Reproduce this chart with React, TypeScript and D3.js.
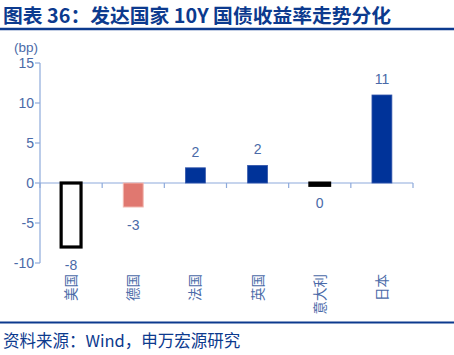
import React from "react";
import * as d3 from "d3";

const categories = ["美国", "德国", "法国", "英国", "意大利", "日本"];
const values = [-8, -3, 1.9, 2.2, -0.3, 11];
const valueLabels = ["-8", "-3", "2", "2", "0", "11"];
const yTicks = [-10, -5, 0, 5, 10, 15];

const titleText = "图表 36：发达国家 10Y 国债收益率走势分化";
const sourceText = "资料来源：Wind，申万宏源研究";
const unitText = "(bp)";

const fills = ["#ffffff", "#e07870", "#003399", "#003399", "#000000", "#003399"];
const strokes = ["#000000", "#f2b8b0", "#3355aa", "#3355aa", "#000000", "#3355aa"];
const strokeWidths = [3.2, 1, 0.8, 0.8, 3, 0.8];

const W = 454;
const H = 355;
const left = 40;
const right = 413;
const labelColor = "#4a6aa8";
const axisColor = "#8eaadb";
const navy = "#0c3a8e";

export default function App() {
  const x = d3.scaleBand<string>().domain(categories).range([left, right]).paddingInner(0.68).paddingOuter(0.34);
  const y = d3.scaleLinear().domain([-10, 15]).range([263, 63]);
  const bw = x.bandwidth();
  const boundaries = d3.range(categories.length + 1).map((i) => left + i * ((right - left) / categories.length));
  const latin = "'Liberation Sans', Arial, sans-serif";
  const cjk = "'Noto Sans CJK SC', sans-serif";

  return (
    <div style={{ position: "absolute", left: 0, top: 0 }}>
      <svg width={W} height={H} style={{ display: "block" }}>
        <rect x={0} y={0} width={W} height={H} fill="#ffffff" />
        <text x={3} y={23} fill={navy} fontFamily={cjk} fontWeight="bold" fontSize={19.8}>
          {titleText}
        </text>
        <line x1={0} x2={W} y1={29} y2={29} stroke={navy} strokeWidth={2.5} />

        <text x={14} y={52} fill={labelColor} fontFamily={latin} fontSize={13.5}>
          {unitText}
        </text>

        {/* y axis */}
        <line x1={left} x2={left} y1={y(15)} y2={y(-10)} stroke={axisColor} strokeWidth={1.2} />
        {yTicks.map((t) => (
          <g key={t}>
            <line x1={left - 5} x2={left} y1={y(t)} y2={y(t)} stroke={axisColor} strokeWidth={1.2} />
            <text x={34} y={y(t)} dy="0.36em" textAnchor="end" fill={labelColor} fontFamily={latin} fontSize={14}>
              {t}
            </text>
          </g>
        ))}

        {/* zero axis */}
        <line x1={left} x2={right} y1={y(0)} y2={y(0)} stroke={axisColor} strokeWidth={1.2} />
        {boundaries.map((b, i) => (
          <line key={i} x1={b} x2={b} y1={y(0)} y2={y(0) + 5} stroke={axisColor} strokeWidth={1.2} />
        ))}

        {/* bars */}
        {categories.map((c, i) => {
          const v = values[i];
          const y0 = y(Math.max(0, v));
          const h = Math.abs(y(v) - y(0));
          return (
            <rect
              key={c}
              x={x(c)!}
              y={y0}
              width={bw}
              height={h}
              fill={fills[i]}
              stroke={strokes[i]}
              strokeWidth={strokeWidths[i]}
            />
          );
        })}

        {/* value labels */}
        {categories.map((c, i) => {
          const v = values[i];
          const cx = x(c)! + bw / 2;
          const ly = v >= 0 ? y(v) - 11 : y(v) + 22.5;
          return (
            <text key={c} x={cx} y={ly} textAnchor="middle" fill={labelColor} fontFamily={latin} fontSize={14}>
              {valueLabels[i]}
            </text>
          );
        })}

        {/* category labels */}
        {categories.map((c) => {
          const cx = x(c)! + bw / 2;
          return (
            <text
              key={c}
              transform={`translate(${cx + 5},${274}) rotate(-90)`}
              textAnchor="end"
              fill={labelColor}
              fontFamily={cjk}
              fontSize={13.5}
            >
              {c}
            </text>
          );
        })}

        <line x1={0} x2={W} y1={322.5} y2={322.5} stroke={navy} strokeWidth={2} />
        <text x={3} y={347} fill={navy} fontFamily={cjk} fontSize={16.5}>
          {sourceText}
        </text>
      </svg>
    </div>
  );
}
